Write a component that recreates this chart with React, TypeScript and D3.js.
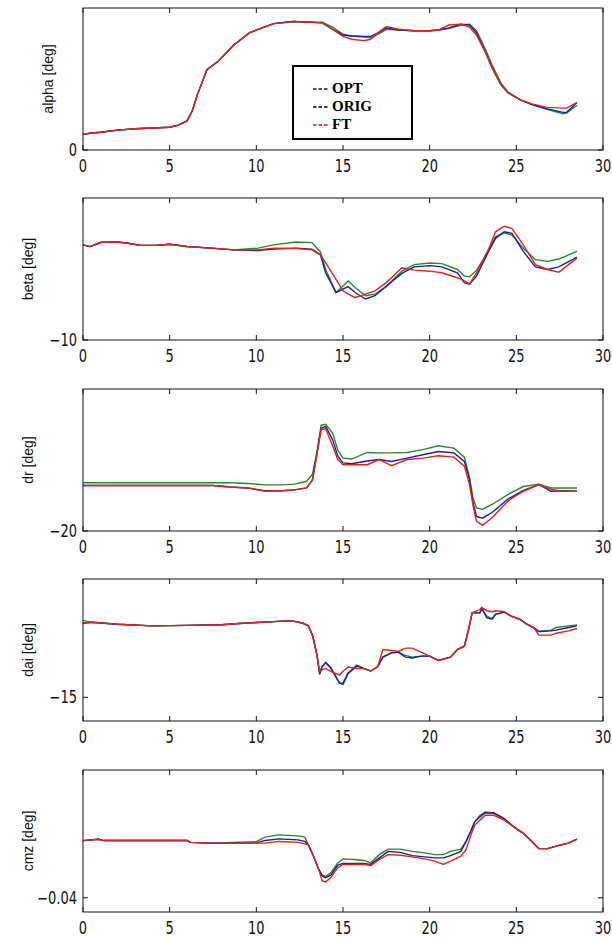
import * as d3 from "d3";

// shared axis stuff
const xTicks = [0, 5, 10, 15, 20, 25, 30];
const legendLabels = ["OPT", "ORIG", "FT"];
const legendColors = ["#0000ff", "#000000", "#ff0000"];
const lineColors = ["#2a8a2a", "#1c1ca8", "#e2231a"]; // orig, opt, ft (draw order)

// alpha [deg]
const tAlpha = [0, 0.5, 1, 2, 3, 4, 5, 5.5, 6, 6.3, 6.6, 7.15, 7.8, 8.7, 9.6, 10.1, 11, 12.1, 13.2, 13.8, 14.4, 15, 15.5, 16.2, 16.6, 17.1, 17.5, 18.2, 19.1, 20, 20.5, 21.1, 21.8, 22.3, 22.7, 23.2, 23.6, 24.1, 24.5, 25.2, 25.9, 26.8, 27.7, 27.9, 28.5];
const alphaOpt = [2.2, 2.4, 2.5, 2.8, 3.0, 3.1, 3.2, 3.5, 4.1, 5.5, 7.8, 11.3, 12.5, 14.8, 16.5, 17.0, 17.8, 18.1, 18.0, 17.9, 17.0, 16.2, 16.1, 16.0, 16.0, 16.6, 17.2, 16.9, 16.8, 16.8, 16.9, 17.2, 17.7, 17.6, 16.5, 13.9, 11.6, 9.2, 8.1, 7.1, 6.4, 5.8, 5.3, 5.3, 6.7];
const alphaOrig = [2.2, 2.4, 2.5, 2.8, 3.0, 3.1, 3.2, 3.5, 4.1, 5.5, 7.8, 11.3, 12.5, 14.8, 16.5, 17.0, 17.8, 18.1, 18.0, 18.0, 17.3, 16.3, 16.0, 15.9, 15.8, 16.4, 17.0, 16.9, 16.8, 16.8, 16.9, 17.1, 17.6, 17.7, 16.8, 14.3, 12.0, 9.5, 8.2, 7.1, 6.4, 5.7, 5.1, 5.2, 6.3];
const alphaFt = [2.2, 2.4, 2.5, 2.8, 3.0, 3.1, 3.2, 3.5, 4.1, 5.5, 7.8, 11.3, 12.5, 14.8, 16.5, 17.0, 17.8, 18.1, 18.0, 17.9, 17.0, 16.0, 15.6, 15.4, 15.6, 16.7, 17.4, 17.0, 16.8, 16.8, 16.9, 17.6, 17.7, 17.3, 16.2, 13.8, 11.6, 9.2, 8.1, 7.1, 6.5, 6.0, 5.9, 5.9, 6.7];

// beta [deg]
const tBeta = [0, 0.4, 1.06, 2, 2.6, 3.3, 4.2, 5, 6, 7.4, 8.7, 10.1, 11, 12.3, 13.2, 13.7, 14, 14.6, 15, 15.3, 15.7, 16.3, 16.85, 17.5, 18.4, 19.1, 20, 20.7, 21.6, 22, 22.3, 22.7, 23.4, 23.8, 24.3, 24.75, 25.4, 26.1, 26.8, 27.45, 28.5];
const betaOpt = [0.05, -0.13, 0.32, 0.35, 0.22, 0, 0, 0.11, -0.13, -0.3, -0.48, -0.55, -0.4, -0.3, -0.4, -1.0, -2.9, -4.98, -4.63, -4.36, -4.98, -5.67, -5.32, -4.29, -2.97, -2.28, -2.14, -2.28, -2.9, -3.94, -4.1, -3.25, -0.64, 0.74, 1.43, 1.27, -0.64, -2.28, -2.55, -2.28, -1.24];
const betaOrig = [0.05, -0.13, 0.32, 0.35, 0.22, 0, 0, 0.11, -0.13, -0.3, -0.48, -0.3, 0.05, 0.35, 0.29, -0.7, -2.56, -4.98, -4.29, -3.76, -4.45, -5.32, -5.16, -4.36, -2.73, -2.04, -1.86, -1.93, -2.55, -3.25, -3.33, -2.65, -0.55, 0.9, 1.33, 1.09, -0.3, -1.51, -1.69, -1.45, -0.64];
const betaFt = [0.05, -0.13, 0.32, 0.35, 0.22, 0, 0, 0.11, -0.13, -0.3, -0.48, -0.48, -0.3, -0.33, -0.48, -1.0, -1.86, -3.6, -4.81, -5.16, -5.5, -5.16, -4.81, -3.94, -2.38, -2.62, -2.73, -2.9, -3.42, -3.76, -4.1, -2.9, -0.4, 1.43, 2.02, 1.78, 0.05, -2.04, -2.55, -2.83, -1.35];

// dr [deg]
const tDr = [0, 2, 4, 7.5, 8.5, 9.5, 10.5, 11.5, 12.2, 12.9, 13.24, 13.5, 13.74, 14, 14.4, 14.7, 15, 15.5, 16.4, 17.1, 17.8, 18.7, 19.6, 20.5, 21.4, 22, 22.3, 22.5, 22.7, 23.05, 23.6, 24.5, 25.4, 26.3, 27, 27.7, 28.5];
const drOpt = [-10.4, -10.4, -10.4, -10.4, -10.7, -10.9, -11.5, -11.5, -11.3, -10.9, -9.2, -3.5, 1.7, 2.1, -0.7, -4.2, -5.6, -5.8, -5.2, -4.9, -5.3, -4.6, -3.9, -3.2, -3.5, -5.3, -9.1, -14.0, -16.9, -17.3, -16.1, -13.3, -11.4, -10.2, -11.6, -11.5, -11.6];
const drOrig = [-9.8, -9.8, -9.8, -9.8, -9.8, -9.95, -10.25, -10.25, -10.1, -9.5, -8.0, -3.2, 2.35, 2.55, 0.7, -2.9, -4.6, -4.8, -3.4, -3.5, -3.5, -3.4, -2.8, -2.0, -2.5, -4.4, -8.6, -13.1, -15.1, -15.4, -14.4, -12.3, -10.6, -10.1, -10.9, -10.9, -10.9];
const drFt = [-10.4, -10.4, -10.4, -10.4, -10.7, -10.9, -11.6, -11.5, -11.3, -10.9, -9.2, -3.8, 1.45, 1.6, -2.0, -4.9, -6.0, -6.0, -6.0, -4.9, -6.2, -4.9, -4.6, -4.1, -4.4, -6.3, -10.2, -14.6, -17.9, -18.8, -17.2, -13.7, -11.6, -10.2, -11.2, -11.6, -11.6];

// dai [deg]
const tDai = [0, 0.5, 2, 4, 6, 8, 9, 10, 11, 12, 12.7, 13, 13.25, 13.5, 13.65, 13.8, 14, 14.3, 14.8, 15, 15.3, 15.8, 16.2, 16.6, 17, 17.3, 17.8, 18.2, 18.6, 19, 19.5, 20, 20.5, 21.2, 21.6, 22, 22.25, 22.45, 22.9, 23, 23.3, 23.6, 23.8, 24.3, 24.7, 25.2, 25.6, 26, 26.3, 27, 27.3, 28, 28.5];
const daiOpt = [-11.87, -11.83, -11.91, -11.98, -11.96, -11.93, -11.88, -11.84, -11.8, -11.76, -11.87, -11.98, -12.4, -13.23, -14.03, -13.71, -13.53, -13.75, -14.4, -14.45, -13.99, -13.67, -13.78, -13.89, -13.71, -13.3, -13.12, -13.09, -13.3, -13.34, -13.26, -13.26, -13.44, -13.3, -12.98, -12.84, -12.12, -11.43, -11.43, -11.22, -11.64, -11.7, -11.49, -11.4, -11.57, -11.7, -11.91, -12.05, -12.22, -12.19, -12.16, -12.05, -11.98];
const daiOrig = [-11.75, -11.83, -11.91, -11.98, -11.96, -11.93, -11.88, -11.84, -11.8, -11.76, -11.87, -11.98, -12.4, -13.23, -13.96, -13.69, -13.53, -13.78, -14.4, -14.38, -13.96, -13.64, -13.78, -13.89, -13.71, -13.3, -13.12, -13.09, -13.23, -13.3, -13.26, -13.26, -13.44, -13.3, -12.98, -12.84, -12.12, -11.43, -11.43, -11.26, -11.57, -11.67, -11.49, -11.4, -11.57, -11.7, -11.91, -12.05, -12.22, -12.16, -12.05, -11.98, -11.94];
const daiFt = [-11.87, -11.83, -11.91, -11.98, -11.96, -11.93, -11.88, -11.84, -11.8, -11.76, -11.87, -11.98, -12.4, -13.23, -13.9, -13.84, -13.78, -13.9, -14.06, -13.9, -13.72, -13.78, -13.78, -13.89, -13.71, -12.98, -13.02, -13.06, -12.92, -12.92, -13.09, -13.26, -13.44, -13.3, -12.98, -12.84, -12.12, -11.43, -11.29, -11.2, -11.34, -11.38, -11.34, -11.38, -11.57, -11.7, -11.91, -12.05, -12.37, -12.37, -12.29, -12.19, -12.09];

// cmz [deg]
const tCmz = [0, 0.9, 1.2, 6, 6.2, 7.3, 10, 10.5, 11.3, 12.4, 12.8, 13, 13.3, 13.6, 13.8, 14, 14.3, 14.7, 15, 15.6, 16.2, 16.6, 17.1, 17.6, 18.3, 19, 19.7, 20.3, 20.8, 21.2, 21.8, 22.1, 22.4, 22.6, 22.9, 23.2, 23.7, 24.3, 24.8, 25.4, 25.9, 26.3, 26.8, 27.4, 28, 28.5];
const cmzOpt = [-0.03194, -0.03176, -0.03194, -0.03194, -0.0322, -0.0323, -0.0323, -0.03192, -0.0317, -0.03184, -0.03206, -0.03254, -0.03414, -0.036, -0.03692, -0.03716, -0.03682, -0.0354, -0.03516, -0.03516, -0.03516, -0.0353, -0.03438, -0.03346, -0.0336, -0.03406, -0.03424, -0.03438, -0.03438, -0.03406, -0.03346, -0.03206, -0.03046, -0.0293, -0.0286, -0.02806, -0.02806, -0.02884, -0.0299, -0.03092, -0.03206, -0.03308, -0.03308, -0.03266, -0.0323, -0.03174];
const cmzOrig = [-0.03194, -0.03176, -0.03194, -0.03194, -0.0322, -0.0323, -0.0321, -0.03146, -0.03114, -0.03128, -0.03146, -0.03254, -0.03414, -0.036, -0.0368, -0.037, -0.03646, -0.03508, -0.03452, -0.0346, -0.03474, -0.03508, -0.03392, -0.03314, -0.03314, -0.03346, -0.03368, -0.03392, -0.03392, -0.03346, -0.03314, -0.03206, -0.03046, -0.0293, -0.02838, -0.02792, -0.02806, -0.02884, -0.0299, -0.03092, -0.03206, -0.03308, -0.03308, -0.03266, -0.0323, -0.03174];
const cmzFt = [-0.03194, -0.03176, -0.03194, -0.03194, -0.0322, -0.0323, -0.0323, -0.0323, -0.03206, -0.0322, -0.0324, -0.03254, -0.03414, -0.036, -0.03762, -0.03776, -0.03716, -0.03576, -0.0353, -0.0353, -0.0353, -0.03544, -0.0346, -0.03392, -0.034, -0.03424, -0.03452, -0.03484, -0.0353, -0.03484, -0.03414, -0.03322, -0.031, -0.0298, -0.02906, -0.02838, -0.02838, -0.02906, -0.0299, -0.03092, -0.03206, -0.03308, -0.03308, -0.03266, -0.0323, -0.03174];

const W = 612;
const H = 940;
const left = 83;
const right = 603;
const panelH = 142;
const tickLen = 5;
const tickFont = "'Liberation Sans Narrow', 'DejaVu Sans Condensed', 'Arial Narrow', sans-serif";
const labelFont = "'Liberation Sans', Arial, sans-serif";

// tall, narrow tick numbers like the old matlab export
const TickText = ({ x, y, anchor, children }: { x: number; y: number; anchor: string; children: React.ReactNode }) => (
  <text
    transform={`translate(${x},${y}) scale(0.85,1)`}
    textAnchor={anchor}
    fontFamily={tickFont}
    fontSize={17}
    fill="#111"
  >
    {children}
  </text>
);

interface PanelProps {
  top: number;
  label: string;
  labelX: number;
  t: number[];
  opt: number[];
  orig: number[];
  ft: number[];
  domain: [number, number];
  yTick: number;
  yTickLabel: string;
  children?: React.ReactNode;
}

const Panel = ({ top, label, labelX, t, opt, orig, ft, domain, yTick, yTickLabel, children }: PanelProps) => {
  const x = d3.scaleLinear().domain([0, 30]).range([left, right]);
  const y = d3.scaleLinear().domain(domain).range([top + panelH, top]);
  const bottom = top + panelH;
  const line = d3
    .line<number>()
    .x((_, i) => x(t[i]))
    .y((d) => y(d));
  const series = [orig, opt, ft];
  const yt = y(yTick);

  return (
    <g>
      <rect x={left} y={top} width={right - left} height={panelH} fill="#fff" />
      {series.map((s, i) => (
        <path key={i} d={line(s) ?? ""} fill="none" stroke={lineColors[i]} strokeWidth={1.4} />
      ))}
      {children}
      <rect x={left} y={top} width={right - left} height={panelH} fill="none" stroke="#111" strokeWidth={1} />
      {xTicks.map((v) => (
        <g key={v}>
          <line x1={x(v)} x2={x(v)} y1={bottom} y2={bottom - tickLen} stroke="#111" />
          <line x1={x(v)} x2={x(v)} y1={top} y2={top + tickLen} stroke="#111" />
          <TickText x={x(v)} y={bottom + 22} anchor="middle">
            {v}
          </TickText>
        </g>
      ))}
      <line x1={left} x2={left + tickLen} y1={yt} y2={yt} stroke="#111" />
      <line x1={right} x2={right - tickLen} y1={yt} y2={yt} stroke="#111" />
      <TickText x={left - 6} y={yt + 6} anchor="end">
        {yTickLabel}
      </TickText>
      <text
        transform={`translate(${labelX},${top + panelH / 2}) rotate(-90)`}
        textAnchor="middle"
        fontFamily={labelFont}
        fontSize={14}
        fill="#111"
      >
        {label}
      </text>
    </g>
  );
};

const Legend = () => {
  const bx = 293;
  const by = 66;
  return (
    <g>
      <rect x={bx} y={by} width={119} height={73} fill="#fff" stroke="#000" strokeWidth={2} />
      {legendLabels.map((name, i) => {
        const base = by + 27 + i * 18;
        return (
          <g key={name}>
            <line x1={bx + 20} x2={bx + 35} y1={base - 4} y2={base - 4} stroke={legendColors[i]} strokeWidth={1.5} strokeDasharray="3.5,2" />
            <text x={bx + 39} y={base} fontFamily="'Liberation Serif', 'Times New Roman', serif" fontWeight="bold" fontSize={15} fill="#000">
              {name}
            </text>
          </g>
        );
      })}
    </g>
  );
};

export default function App() {
  const tops = [8, 198, 389, 579, 770];
  return (
    <svg width={W} height={H} style={{ position: "absolute", left: 0, top: 0, background: "#fff" }}>
      <rect width={W} height={H} fill="#fff" />
      <Panel top={tops[0]} label="alpha [deg]" labelX={53} t={tAlpha} opt={alphaOpt} orig={alphaOrig} ft={alphaFt} domain={[0, 20]} yTick={0} yTickLabel="0">
        <Legend />
      </Panel>
      <Panel top={tops[1]} label="beta [deg]" labelX={33} t={tBeta} opt={betaOpt} orig={betaOrig} ft={betaFt} domain={[-10, 5]} yTick={-10} yTickLabel="−10" />
      <Panel top={tops[2]} label="dr [deg]" labelX={33} t={tDr} opt={drOpt} orig={drOrig} ft={drFt} domain={[-20, 10]} yTick={-20} yTickLabel="−20" />
      <Panel top={tops[3]} label="dai [deg]" labelX={33} t={tDai} opt={daiOpt} orig={daiOrig} ft={daiFt} domain={[-16, -10]} yTick={-15} yTickLabel="−15" />
      <Panel top={tops[4]} label="cmz [deg]" labelX={33} t={tCmz} opt={cmzOpt} orig={cmzOrig} ft={cmzFt} domain={[-0.042, -0.022]} yTick={-0.04} yTickLabel="−0.04" />
    </svg>
  );
}
